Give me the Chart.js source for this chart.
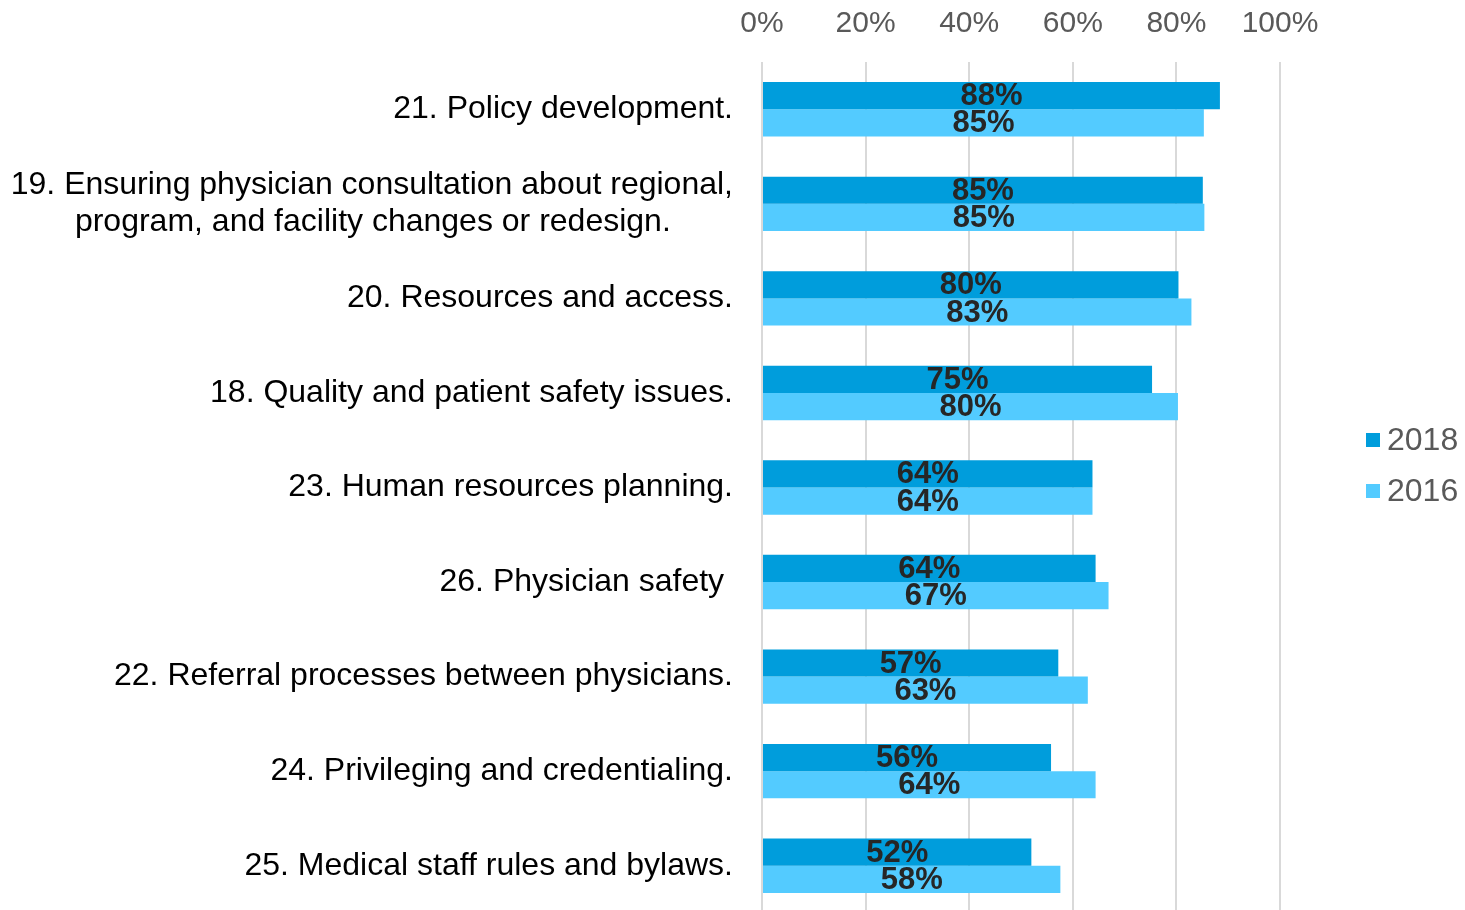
<!DOCTYPE html>
<html>
<head>
<meta charset="utf-8">
<script src="https://cdn.jsdelivr.net/npm/chart.js"></script>
<style>
    body { margin: 0; background: #ffffff; overflow: hidden; }
    #wrap { width: 1465px; height: 913px; }
</style>
</head>
<body>
<div id="wrap"><canvas id="myChart"></canvas></div>
<script>
// chart values
const categories = [
    '21. Policy development.',
    ['19. Ensuring physician consultation about regional,', 'program, and facility changes or redesign.       '],
    '20. Resources and access.',
    '18. Quality and patient safety issues.',
    '23. Human resources planning.',
    '26. Physician safety ',
    '22. Referral processes between physicians.',
    '24. Privileging and credentialing.',
    '25. Medical staff rules and bylaws.'
];
const seriesNames = ['2018', '2016'];
const values2018 = [88.4, 85.1, 80.4, 75.3, 63.8, 64.4, 57.2, 55.8, 52.0];
const values2016 = [85.3, 85.4, 82.9, 80.3, 63.8, 66.9, 62.9, 64.4, 57.6];
const xTicks = [0, 20, 40, 60, 80, 100];

const colors = ['#009DDC', '#53CBFF'];
const fontFamily = '"Liberation Sans", Arial, sans-serif';

// bar value labels, drawn in the middle of each bar
const barLabels = {
    id: 'barLabels',
    afterDatasetsDraw(chart) {
        const ctx = chart.ctx;
        ctx.save();
        ctx.font = 'bold 31px ' + fontFamily;
        ctx.fillStyle = '#262626';
        ctx.textAlign = 'center';
        ctx.textBaseline = 'middle';
        chart.data.datasets.forEach((ds, i) => {
            chart.getDatasetMeta(i).data.forEach((bar, j) => {
                const p = bar.getProps(['x', 'y', 'base'], true);
                ctx.fillText(Math.round(ds.data[j]) + '%', (p.x + p.base) / 2, p.y + 1);
            });
        });
        ctx.restore();
    }
};

// legend on the right, like the office chart
const sideLegend = {
    id: 'sideLegend',
    afterDraw(chart) {
        const ctx = chart.ctx;
        const area = chart.chartArea;
        ctx.save();
        ctx.font = '32px ' + fontFamily;
        ctx.textBaseline = 'middle';
        ctx.textAlign = 'left';
        chart.data.datasets.forEach((ds, i) => {
            const y = 440 + i * 51;
            ctx.fillStyle = ds.backgroundColor;
            ctx.fillRect(area.right + 86, y - 7, 14, 14);
            ctx.fillStyle = '#595959';
            ctx.fillText(ds.label, area.right + 107, y + 1);
        });
        ctx.restore();
    }
};

const ctx = document.getElementById('myChart').getContext('2d');
new Chart(ctx, {
    type: 'bar',
    data: {
        labels: categories,
        datasets: [{
            label: seriesNames[0],
            data: values2018,
            backgroundColor: colors[0]
        }, {
            label: seriesNames[1],
            data: values2016,
            backgroundColor: colors[1]
        }]
    },
    options: {
        indexAxis: 'y',
        responsive: true,
        maintainAspectRatio: false,
        animation: false,
        layout: { padding: { left: 0, right: 185, top: 0, bottom: 0 } },
        datasets: {
            bar: { categoryPercentage: 0.575, barPercentage: 1 }
        },
        scales: {
            x: {
                position: 'top',
                min: 0,
                max: 100,
                afterBuildTicks: scale => { scale.ticks = xTicks.map(v => ({ value: v })); },
                afterFit: scale => { scale.height = 62; },
                grid: { color: '#d9d9d9', lineWidth: 2, drawTicks: false },
                border: { display: false },
                ticks: {
                    padding: 20,
                    color: '#595959',
                    font: { family: fontFamily, size: 30 },
                    callback: v => v + '%'
                }
            },
            y: {
                afterFit: scale => {
                    scale.width = 762;
                    scale.paddingTop = 0;
                    scale.paddingBottom = 0;
                },
                grid: { display: false, drawTicks: false },
                border: { display: false },
                ticks: {
                    padding: 29,
                    color: '#000000',
                    font: { family: fontFamily, size: 32, lineHeight: 1.16 }
                }
            }
        },
        plugins: {
            legend: { display: false },
            tooltip: { enabled: false }
        }
    },
    plugins: [barLabels, sideLegend]
});
</script>
</body>
</html>
